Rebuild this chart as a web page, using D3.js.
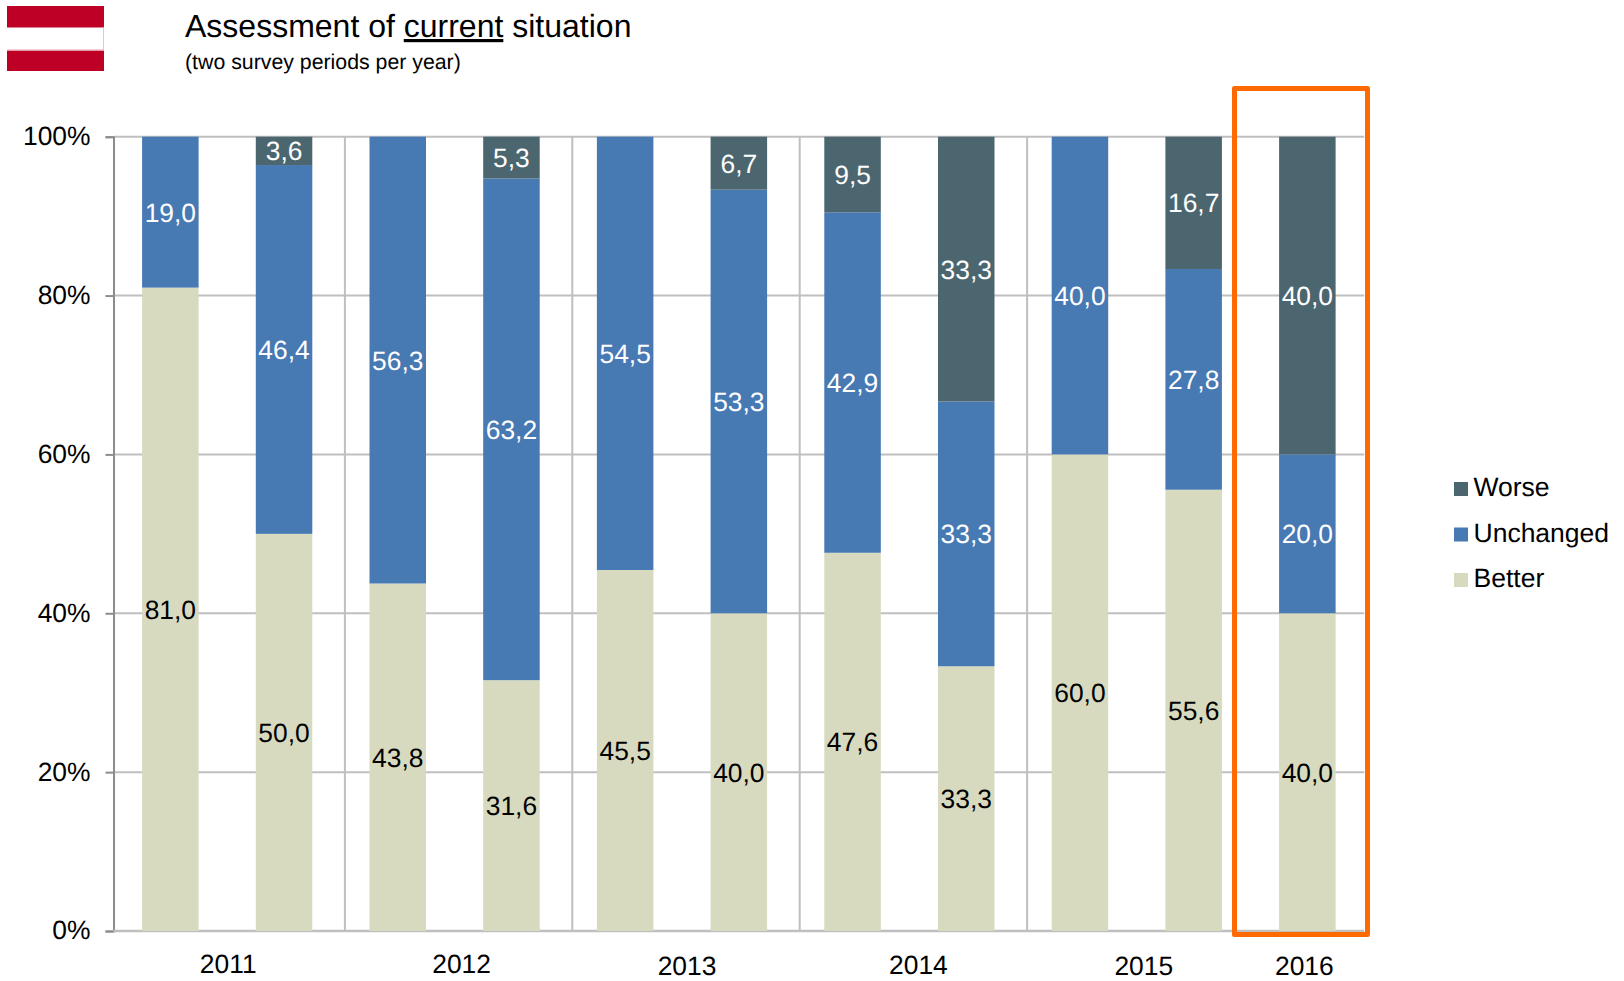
<!DOCTYPE html>
<html><head><meta charset="utf-8">
<script src="https://cdnjs.cloudflare.com/ajax/libs/d3/7.8.5/d3.min.js"></script>
<style>
html,body{margin:0;padding:0;background:#fff}
svg{display:block}
text{font-family:"Liberation Sans",Arial,sans-serif;fill:#000;text-rendering:geometricPrecision}
</style></head><body>
<svg id="c" width="1624" height="981"></svg>
<script>
const periods = ["2011a","2011b","2012a","2012b","2013a","2013b","2014a","2014b","2015a","2015b","2016"];
const better = [81.0,50.0,43.75,31.58,45.45,40.0,47.62,33.33,60.0,55.56,40.0];
const unchanged = [19.0,46.43,56.25,63.16,54.55,53.33,42.86,33.33,40.0,27.78,20.0];
const worse = [0,3.57,0,5.26,0,6.67,9.52,33.34,0,16.66,40.0];
const years = ["2011","2012","2013","2014","2015","2016"];
const yearFirstBar = [0,2,4,6,8,10];
const yearLastBar = [1,3,5,7,9,10];
const yearNudge = [1,7,5,9,7,-3];
const yearBaseline = [973,973,975,974,975,975];
const yTicks = [0,20,40,60,80,100];
const seriesNames = ["Better","Unchanged","Worse"];
const seriesColors = ["#D7DABF","#4779B3","#4C6670"];
const labelColors = ["#000","#fff","#fff"];
const legendOrder = ["Worse","Unchanged","Better"];

const svg = d3.select("#c");
const L=113.5,R=1364.2,T=136.7,B=931;
const x = d3.scaleBand().domain(periods).range([L,R]).paddingInner(0.503).paddingOuter(0.2515);
const y = d3.scaleLinear().domain([0,100]).range([B,T]);

const rows = periods.map((p,i)=>({p,Better:better[i],Unchanged:unchanged[i],Worse:worse[i]}));
const stacked = d3.stack().keys(seriesNames)(rows);

// flag
const flag = svg.append("g");
flag.append("rect").attr("x",7).attr("y",6).attr("width",97).attr("height",65).attr("fill","#BE0027");
flag.append("rect").attr("x",7).attr("y",27.5).attr("width",97).attr("height",22.5).attr("fill","#fff");
flag.append("rect").attr("x",7).attr("y",49.5).attr("width",97).attr("height",1.5).attr("fill","#E39AAA");
flag.append("line").attr("x1",103.5).attr("x2",103.5).attr("y1",27.5).attr("y2",49.5).attr("stroke","#D0D0D0");

// title
const title = svg.append("text").attr("x",185).attr("y",37).attr("font-size",32);
title.append("tspan").text("Assessment of ");
title.append("tspan").attr("text-decoration","underline").text("current");
title.append("tspan").text(" situation");
svg.append("text").attr("x",185).attr("y",69).attr("font-size",21.3).text("(two survey periods per year)");

// gridlines
svg.append("g").selectAll("line").data(yTicks.slice(1)).join("line")
  .attr("x1",L).attr("x2",R).attr("y1",d=>y(d)).attr("y2",d=>y(d))
  .attr("stroke","#BFBFBF").attr("stroke-width",2);

// year separators (between groups)
const sepOffset = 4;
svg.append("g").selectAll("line").data(yearFirstBar.slice(1,5)).join("line")
  .attr("x1",d=>x(periods[d])-x.step()*x.paddingInner()/2+sepOffset)
  .attr("x2",d=>x(periods[d])-x.step()*x.paddingInner()/2+sepOffset)
  .attr("y1",T).attr("y2",B).attr("stroke","#BFBFBF").attr("stroke-width",2);

// axes
const yAxis = d3.axisLeft(y).tickValues(yTicks).tickFormat(d=>d+"%").tickSize(8).tickPadding(15);
const gy = svg.append("g").attr("transform",`translate(${L},0)`).call(yAxis);
gy.selectAll("line").attr("stroke","#8C8C8C").attr("stroke-width",2);
gy.select(".domain").attr("stroke","#8C8C8C").attr("stroke-width",2);
gy.selectAll("text").attr("font-size",26.4).attr("font-family",'"Liberation Sans"').attr("fill","#000").attr("dy","0.3em");
svg.append("line").attr("x1",L).attr("x2",R).attr("y1",B).attr("y2",B).attr("stroke","#BFBFBF").attr("stroke-width",2.5);

// bars
stacked.forEach((s,si)=>{
  const g = svg.append("g");
  g.selectAll("rect").data(s.filter(d=>d[1]>d[0])).join("rect")
    .attr("x",d=>x(d.data.p)).attr("width",x.bandwidth())
    .attr("y",d=>y(d[1])).attr("height",d=>y(d[0])-y(d[1]))
    .attr("fill",seriesColors[si]);
  g.selectAll("text").data(s.filter(d=>d[1]>d[0])).join("text")
    .attr("x",d=>x(d.data.p)+x.bandwidth()/2)
    .attr("y",d=>y((d[0]+d[1])/2)+9.5)
    .attr("text-anchor","middle").attr("font-size",26.4)
    .style("fill",labelColors[si])
    .text(d=>(d[1]-d[0]).toFixed(1).replace(".",","));
});

// year labels
svg.append("g").selectAll("text").data(years).join("text")
  .attr("x",(d,i)=>(x(periods[yearFirstBar[i]])+x(periods[yearLastBar[i]])+x.bandwidth())/2+yearNudge[i])
  .attr("y",(d,i)=>yearBaseline[i])
  .attr("text-anchor","middle").attr("font-size",26.4).text(d=>d);

// legend
const leg = svg.append("g").selectAll("g").data(legendOrder).join("g")
  .attr("transform",(d,i)=>`translate(1454,${482+i*45.5})`);
leg.append("rect").attr("width",14).attr("height",14).attr("fill",d=>seriesColors[seriesNames.indexOf(d)]);
leg.append("text").attr("x",19.5).attr("y",14).attr("font-size",26.5).text(d=>d);

// highlight box
svg.append("rect").attr("x",1234.5).attr("y",88.5).attr("width",133).attr("height",846)
  .attr("fill","none").attr("stroke","#FF6A00").attr("stroke-width",5).attr("stroke-linejoin","round");
</script>
</body></html>
